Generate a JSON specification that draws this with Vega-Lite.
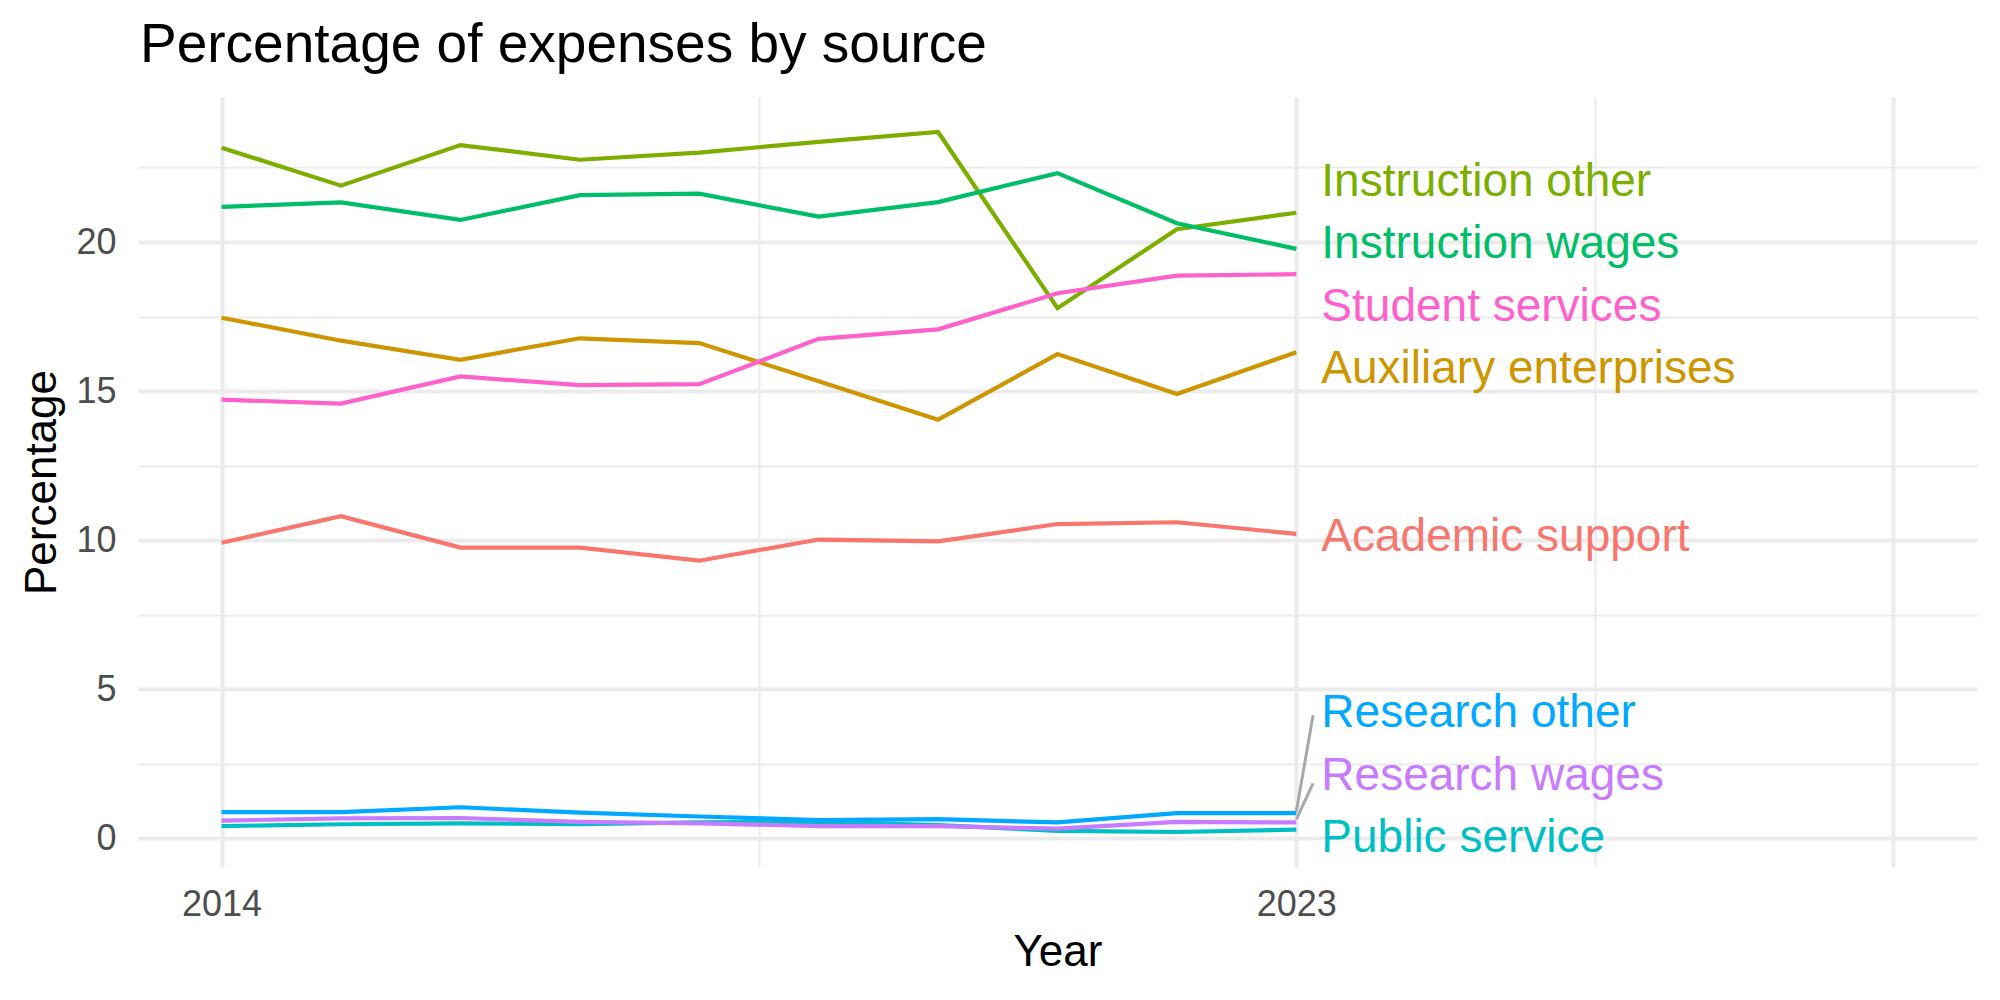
{
  "$schema": "https://vega.github.io/schema/vega-lite/v6.json",
  "width": 1839,
  "height": 770,
  "autosize": {"type": "none"},
  "padding": {"left": 138, "top": 97, "right": 23, "bottom": 133},
  "background": "white",
  "title": {
    "text": "Percentage of expenses by source",
    "anchor": "start",
    "frame": "group",
    "font": "Liberation Sans",
    "fontSize": 55,
    "fontWeight": "normal",
    "color": "#000000",
    "baseline": "alphabetic",
    "offset": -20,
    "dx": 2
  },
  "datasets": {
    "expenses": [
      {"year": 2014, "source": "Academic support", "pct": 9.91},
      {"year": 2015, "source": "Academic support", "pct": 10.80},
      {"year": 2016, "source": "Academic support", "pct": 9.75},
      {"year": 2017, "source": "Academic support", "pct": 9.75},
      {"year": 2018, "source": "Academic support", "pct": 9.31},
      {"year": 2019, "source": "Academic support", "pct": 10.02},
      {"year": 2020, "source": "Academic support", "pct": 9.96},
      {"year": 2021, "source": "Academic support", "pct": 10.54},
      {"year": 2022, "source": "Academic support", "pct": 10.60},
      {"year": 2023, "source": "Academic support", "pct": 10.21},
      {"year": 2014, "source": "Auxiliary enterprises", "pct": 17.46},
      {"year": 2015, "source": "Auxiliary enterprises", "pct": 16.69},
      {"year": 2016, "source": "Auxiliary enterprises", "pct": 16.05},
      {"year": 2017, "source": "Auxiliary enterprises", "pct": 16.77},
      {"year": 2018, "source": "Auxiliary enterprises", "pct": 16.61},
      {"year": 2019, "source": "Auxiliary enterprises", "pct": 15.33},
      {"year": 2020, "source": "Auxiliary enterprises", "pct": 14.04},
      {"year": 2021, "source": "Auxiliary enterprises", "pct": 16.24},
      {"year": 2022, "source": "Auxiliary enterprises", "pct": 14.90},
      {"year": 2023, "source": "Auxiliary enterprises", "pct": 16.30},
      {"year": 2014, "source": "Instruction other", "pct": 23.16},
      {"year": 2015, "source": "Instruction other", "pct": 21.89},
      {"year": 2016, "source": "Instruction other", "pct": 23.25},
      {"year": 2017, "source": "Instruction other", "pct": 22.76},
      {"year": 2018, "source": "Instruction other", "pct": 23.00},
      {"year": 2019, "source": "Instruction other", "pct": 23.36},
      {"year": 2020, "source": "Instruction other", "pct": 23.69},
      {"year": 2021, "source": "Instruction other", "pct": 17.78},
      {"year": 2022, "source": "Instruction other", "pct": 20.43},
      {"year": 2023, "source": "Instruction other", "pct": 20.98},
      {"year": 2014, "source": "Instruction wages", "pct": 21.18},
      {"year": 2015, "source": "Instruction wages", "pct": 21.33},
      {"year": 2016, "source": "Instruction wages", "pct": 20.74},
      {"year": 2017, "source": "Instruction wages", "pct": 21.57},
      {"year": 2018, "source": "Instruction wages", "pct": 21.62},
      {"year": 2019, "source": "Instruction wages", "pct": 20.85},
      {"year": 2020, "source": "Instruction wages", "pct": 21.34},
      {"year": 2021, "source": "Instruction wages", "pct": 22.31},
      {"year": 2022, "source": "Instruction wages", "pct": 20.63},
      {"year": 2023, "source": "Instruction wages", "pct": 19.77},
      {"year": 2014, "source": "Public service", "pct": 0.41},
      {"year": 2015, "source": "Public service", "pct": 0.47},
      {"year": 2016, "source": "Public service", "pct": 0.50},
      {"year": 2017, "source": "Public service", "pct": 0.47},
      {"year": 2018, "source": "Public service", "pct": 0.53},
      {"year": 2019, "source": "Public service", "pct": 0.55},
      {"year": 2020, "source": "Public service", "pct": 0.44},
      {"year": 2021, "source": "Public service", "pct": 0.25},
      {"year": 2022, "source": "Public service", "pct": 0.21},
      {"year": 2023, "source": "Public service", "pct": 0.29},
      {"year": 2014, "source": "Research other", "pct": 0.88},
      {"year": 2015, "source": "Research other", "pct": 0.88},
      {"year": 2016, "source": "Research other", "pct": 1.04},
      {"year": 2017, "source": "Research other", "pct": 0.86},
      {"year": 2018, "source": "Research other", "pct": 0.73},
      {"year": 2019, "source": "Research other", "pct": 0.61},
      {"year": 2020, "source": "Research other", "pct": 0.64},
      {"year": 2021, "source": "Research other", "pct": 0.53},
      {"year": 2022, "source": "Research other", "pct": 0.84},
      {"year": 2023, "source": "Research other", "pct": 0.84},
      {"year": 2014, "source": "Research wages", "pct": 0.59},
      {"year": 2015, "source": "Research wages", "pct": 0.67},
      {"year": 2016, "source": "Research wages", "pct": 0.68},
      {"year": 2017, "source": "Research wages", "pct": 0.55},
      {"year": 2018, "source": "Research wages", "pct": 0.50},
      {"year": 2019, "source": "Research wages", "pct": 0.41},
      {"year": 2020, "source": "Research wages", "pct": 0.41},
      {"year": 2021, "source": "Research wages", "pct": 0.32},
      {"year": 2022, "source": "Research wages", "pct": 0.55},
      {"year": 2023, "source": "Research wages", "pct": 0.53},
      {"year": 2014, "source": "Student services", "pct": 14.71},
      {"year": 2015, "source": "Student services", "pct": 14.58},
      {"year": 2016, "source": "Student services", "pct": 15.49},
      {"year": 2017, "source": "Student services", "pct": 15.20},
      {"year": 2018, "source": "Student services", "pct": 15.23},
      {"year": 2019, "source": "Student services", "pct": 16.75},
      {"year": 2020, "source": "Student services", "pct": 17.07},
      {"year": 2021, "source": "Student services", "pct": 18.28},
      {"year": 2022, "source": "Student services", "pct": 18.87},
      {"year": 2023, "source": "Student services", "pct": 18.92}
    ],
    "labels": [
      {"year": 2023, "source": "Academic support", "pct": 10.21, "label_y": 10.12},
      {"year": 2023, "source": "Auxiliary enterprises", "pct": 16.30, "label_y": 15.73},
      {"year": 2023, "source": "Instruction other", "pct": 20.98, "label_y": 22.01},
      {"year": 2023, "source": "Instruction wages", "pct": 19.77, "label_y": 19.92},
      {"year": 2023, "source": "Public service", "pct": 0.29, "label_y": 0.02},
      {"year": 2023, "source": "Research other", "pct": 0.84, "label_y": 4.21, "seg_from": 0.9, "seg_to": 4.13},
      {"year": 2023, "source": "Research wages", "pct": 0.53, "label_y": 2.10, "seg_from": 0.63, "seg_to": 1.84},
      {"year": 2023, "source": "Student services", "pct": 18.92, "label_y": 17.82}
    ]
  },
  "config": {
    "view": {"stroke": null},
    "font": "Liberation Sans",
    "axis": {
      "domain": false,
      "ticks": false,
      "gridColor": "#EBEBEB",
      "labelFont": "Liberation Sans",
      "labelFontSize": 36,
      "labelColor": "#4D4D4D",
      "labelOverlap": false,
      "labelFlush": false,
      "titleFont": "Liberation Sans",
      "titleFontSize": 44,
      "titleFontWeight": "normal",
      "titleColor": "#000000"
    }
  },
  "encoding": {
    "x": {
      "field": "year",
      "type": "quantitative",
      "scale": {"domain": [2013.3, 2028.7], "nice": false, "zero": false},
      "axis": {
        "title": "Year",
        "values": [2014, 2018.5, 2023, 2025.5, 2028],
        "format": "d",
        "labelExpr": "datum.value == 2014 || datum.value == 2023 ? datum.label : ''",
        "gridWidth": {"condition": {"test": "datum.value == 2018.5 || datum.value == 2025.5", "value": 2}, "value": 4},
        "labelPadding": 20,
        "titlePadding": 8
      }
    },
    "color": {
      "field": "source",
      "type": "nominal",
      "legend": null,
      "scale": {
        "domain": ["Academic support", "Auxiliary enterprises", "Instruction other", "Instruction wages", "Public service", "Research other", "Research wages", "Student services"],
        "range": ["#F8766D", "#CD9600", "#7CAE00", "#00BE67", "#00BFC4", "#00A9FF", "#C77CFF", "#FF61CC"]
      }
    }
  },
  "layer": [
    {
      "data": {"name": "expenses"},
      "mark": {"type": "line", "strokeWidth": 4.2},
      "encoding": {
        "y": {
          "field": "pct",
          "type": "quantitative",
          "scale": {"domain": [-0.964, 24.864], "nice": false, "zero": false},
          "axis": {
            "title": "Percentage",
            "values": [0, 2.5, 5, 7.5, 10, 12.5, 15, 17.5, 20, 22.5],
            "labelExpr": "datum.value % 5 == 0 ? datum.label : ''",
            "gridWidth": {"condition": {"test": "datum.value % 5 != 0", "value": 2}, "value": 4},
            "labelPadding": 22,
            "titlePadding": 11
          }
        }
      }
    },
    {
      "data": {"name": "labels"},
      "transform": [{"filter": "isValid(datum.seg_from)"}],
      "mark": {"type": "rule", "color": "#A8A8A8", "strokeWidth": 3},
      "encoding": {
        "x2": {"datum": 2023.14},
        "y": {"field": "seg_from", "type": "quantitative"},
        "y2": {"field": "seg_to"},
        "color": null
      }
    },
    {
      "data": {"name": "labels"},
      "mark": {"type": "text", "align": "left", "baseline": "middle", "dx": 25, "fontSize": 46, "font": "Liberation Sans"},
      "encoding": {
        "y": {"field": "label_y", "type": "quantitative"},
        "text": {"field": "source"}
      }
    }
  ]
}
